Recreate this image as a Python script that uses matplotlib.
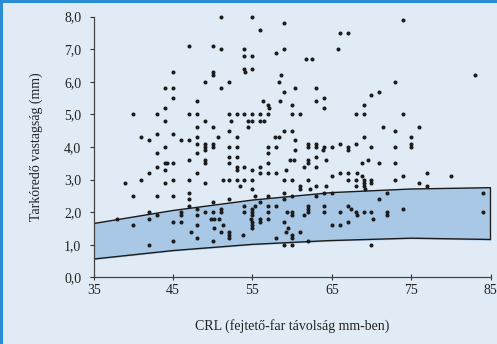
import numpy as np
import matplotlib.pyplot as plt
from matplotlib.lines import Line2D

plt.rcParams['font.family'] = ['Liberation Serif', 'DejaVu Serif']

# CRL (mm) and nuchal thickness (mm) of the measured cases
crl = [
    51, 55, 56, 59, 74, 66, 67,
    47, 50, 51, 54, 59, 58, 65.8,
    54, 55, 61.8, 62.5, 54, 55, 54.1,
    45, 50, 50, 58.6, 83,
    49, 52, 58.3, 73,
    44, 45, 51, 60.4, 63, 59, 71, 70,
    45, 64, 48, 56.3, 58.5, 63, 57, 60, 69, 57.1, 44, 64,
    40, 43, 47, 48, 52, 53, 54, 55, 56, 57, 60, 61, 68, 69, 74,
    44, 49, 54.4, 55, 56, 56.4, 52.3,
    54.5, 48, 50, 71.4, 76,
    52, 59, 60, 73,
    45, 43,
    41, 48, 50.7, 53, 57.9, 58.3, 69, 75,
    42, 46, 47, 60.4,
    75, 48, 49, 50, 62, 63, 66, 68,
    44, 49, 50, 52, 53, 57, 58, 62, 63, 64, 65, 67, 70, 73, 75,
    49, 60.4, 67, 63.9,
    48, 43, 57,
    63, 52, 53,
    47, 49, 59.7, 60.2, 62, 64.3, 69.5,
    44, 44.3, 45, 49, 52, 57, 62, 68.8, 71, 73,
    43, 53, 54, 56, 61.5, 63,
    44, 53, 55, 59.2,
    42, 48, 56, 57, 58, 66, 67, 68.2, 77,
    80, 65, 74, 68.8,
    41, 45, 47, 51.3, 52, 53, 54, 55, 59, 60, 62, 67, 68, 69, 70, 73,
    39, 44, 49, 70, 76, 69,
    53.4, 61, 63, 64.3, 68, 77, 69,
    61, 55, 62.2, 69.2,
    47, 59, 64, 65, 72, 84,
    40, 43, 45, 55.3, 57, 60, 63,
    47, 52, 59, 71,
    56, 50,
    47, 54, 55.3, 57, 58, 62, 64, 67,
    48, 51, 55, 62, 67.4, 74,
    42, 46, 49, 50, 51, 54, 55, 57, 59.3, 60, 62, 64, 66, 68, 69, 70, 72, 84,
    46, 48, 43, 60, 61.5, 68.2, 72, 55,
    38, 42, 49.8, 50.1, 50.8, 54.8, 56, 57, 70.2,
    56, 45, 46, 59, 55, 67,
    40, 48, 51.3, 55, 65, 66,
    50.2, 55, 59.5,
    47.3, 51, 52, 59.2, 61,
    53.8, 52, 60,
    48, 52, 58, 60,
    45, 50, 62,
    42, 59, 60, 70,
]
nt = [
    8.0, 8.0, 7.6, 7.8, 7.9, 7.5, 7.5,
    7.1, 7.1, 7.0, 7.0, 7.0, 6.9, 7.0,
    6.8, 6.8, 6.7, 6.7, 6.4, 6.4, 6.3,
    6.3, 6.3, 6.2, 6.2, 6.2,
    6.0, 6.0, 6.0, 6.0,
    5.8, 5.8, 5.8, 5.8, 5.8, 5.7, 5.7, 5.6,
    5.5, 5.5, 5.4, 5.4, 5.4, 5.4, 5.3, 5.3, 5.3, 5.2, 5.2, 5.2,
    5.0, 5.0, 5.0, 5.0, 5.0, 5.0, 5.0, 5.0, 5.0, 5.0, 5.0, 5.0, 5.0, 5.0, 5.0,
    4.8, 4.8, 4.8, 4.8, 4.8, 4.8, 4.8,
    4.6, 4.6, 4.6, 4.6, 4.6,
    4.5, 4.5, 4.5, 4.5,
    4.4, 4.4,
    4.3, 4.3, 4.3, 4.3, 4.3, 4.3, 4.3, 4.3,
    4.2, 4.2, 4.2, 4.2,
    4.1, 4.1, 4.1, 4.1, 4.1, 4.1, 4.1, 4.1,
    4.0, 4.0, 4.0, 4.0, 4.0, 4.0, 4.0, 4.0, 4.0, 4.0, 4.0, 4.0, 4.0, 4.0, 4.0,
    3.9, 3.9, 3.9, 3.9,
    3.8, 3.8, 3.8,
    3.7, 3.7, 3.7,
    3.6, 3.6, 3.6, 3.6, 3.6, 3.6, 3.6,
    3.5, 3.5, 3.5, 3.5, 3.5, 3.5, 3.5, 3.5, 3.5, 3.5,
    3.4, 3.4, 3.4, 3.4, 3.4, 3.4,
    3.3, 3.3, 3.3, 3.3,
    3.2, 3.2, 3.2, 3.2, 3.2, 3.2, 3.2, 3.2, 3.2,
    3.1, 3.1, 3.1, 3.1,
    3.0, 3.0, 3.0, 3.0, 3.0, 3.0, 3.0, 3.0, 3.0, 3.0, 3.0, 3.0, 3.0, 3.0, 3.0, 3.0,
    2.9, 2.9, 2.9, 2.9, 2.9, 2.9,
    2.8, 2.8, 2.8, 2.8, 2.8, 2.8, 2.8,
    2.7, 2.7, 2.7, 2.7,
    2.6, 2.6, 2.6, 2.6, 2.6, 2.6,
    2.5, 2.5, 2.5, 2.5, 2.5, 2.5, 2.5,
    2.4, 2.4, 2.4, 2.4,
    2.3, 2.3,
    2.2, 2.2, 2.2, 2.2, 2.2, 2.2, 2.2, 2.2,
    2.1, 2.1, 2.1, 2.1, 2.1, 2.1,
    2.0, 2.0, 2.0, 2.0, 2.0, 2.0, 2.0, 2.0, 2.0, 2.0, 2.0, 2.0, 2.0, 2.0, 2.0, 2.0, 2.0, 2.0,
    1.9, 1.9, 1.9, 1.9, 1.9, 1.9, 1.9, 1.9,
    1.8, 1.8, 1.8, 1.8, 1.8, 1.8, 1.8, 1.8, 1.8,
    1.7, 1.7, 1.7, 1.7, 1.7, 1.7,
    1.6, 1.6, 1.6, 1.6, 1.6, 1.6,
    1.5, 1.5, 1.5,
    1.4, 1.4, 1.4, 1.4, 1.4,
    1.3, 1.3, 1.3,
    1.2, 1.2, 1.2, 1.2,
    1.1, 1.1, 1.1,
    1.0, 1.0, 1.0, 1.0,
]

# reference band (lower and upper limits)
band_crl = [35, 45, 55, 65, 75, 85]
band_upper = [1.65, 2.05, 2.37, 2.60, 2.71, 2.75]
band_lower = [0.56, 0.82, 1.01, 1.13, 1.20, 1.16]

bg = '#e0ebf6'
fig = plt.figure(figsize=(4.97, 3.44), dpi=100, facecolor=bg)
ax = fig.add_axes([0.1885, 0.194, 0.7985, 0.7575])
ax.set_facecolor(bg)

xs = np.linspace(35, 85, 101)
up = np.interp(xs, band_crl, band_upper)
lo = np.interp(xs, band_crl, band_lower)
ax.fill_between(xs, lo, up, color='#a8c8e6', zorder=1)
outline_x = np.concatenate([xs, xs[::-1], xs[:1]])
outline_y = np.concatenate([up, lo[::-1], up[:1]])
ax.plot(outline_x, outline_y, color='#1a1a1a', lw=1.0, zorder=2)

ax.scatter(crl, nt, s=8.5, color='#1c1c1c', linewidths=0, zorder=3, clip_on=False)

ax.set_xlim(35, 85)
ax.set_ylim(0, 8)
ax.set_xticks(range(35, 86, 10))
ax.set_yticks(np.arange(0, 8.01, 1))
ax.set_yticklabels([f'{v:.1f}'.replace('.', ',') for v in np.arange(0, 8.01, 1)])
ax.tick_params(axis='both', labelsize=10, colors='#333333', length=3, width=0.8,
               labelcolor='#222222')
ax.tick_params(axis='x', direction='inout', length=4, pad=3)
ax.tick_params(axis='y', direction='out', pad=6)
ax.spines[['top', 'right']].set_visible(False)
for side in ['left', 'bottom']:
    ax.spines[side].set_color('#444444')
    ax.spines[side].set_linewidth(0.9)

ax.set_xlabel('CRL (fejtető-far távolság mm-ben)', fontsize=10, color='#222222', labelpad=16)
ax.set_ylabel('Tarkóredő vastagság (mm)', fontsize=10, color='#222222', labelpad=15)

# blue frame along the left and top edges
fig.add_artist(Line2D([0.003, 0.003], [0, 1], color='#2b8cd6', lw=2.2, transform=fig.transFigure))
fig.add_artist(Line2D([0, 1], [0.997, 0.997], color='#2b8cd6', lw=2.2, transform=fig.transFigure))

fig.savefig('out.png', dpi=100, facecolor=bg)
